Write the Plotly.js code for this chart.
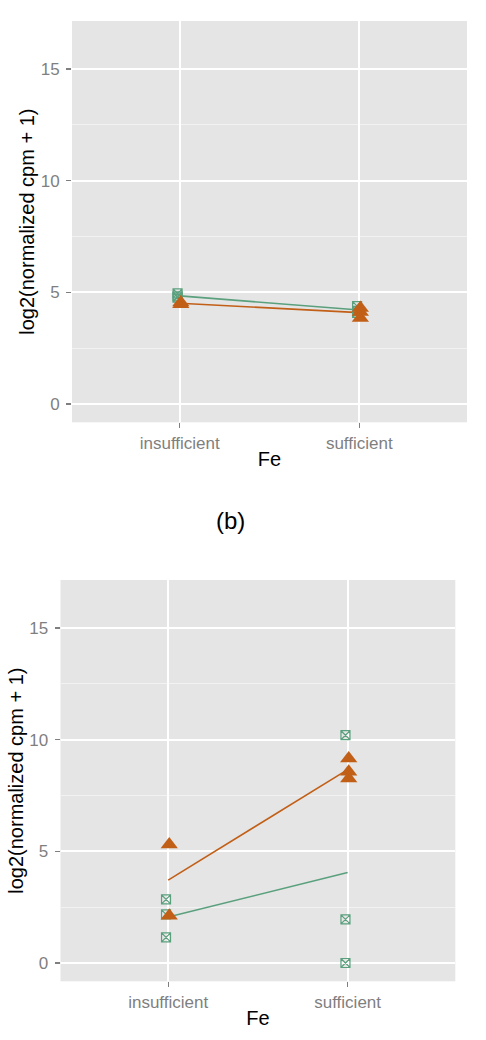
<!DOCTYPE html>
<html>
<head>
<meta charset="utf-8">
<script src="https://cdn.plot.ly/plotly-3.0.1.min.js"></script>
<style>html,body{margin:0;padding:0;background:#fff;}#chart{width:486px;height:1040px;}</style>
</head>
<body>
<div id="chart"></div>
<script>
// Categories
var categories = ["insufficient", "sufficient"];
var yTickVals = [0, 5, 10, 15];
var yTickText = ["0", "5", "10", "15"];

// Panel 1 (top) values
var topGreenInsufficient = [4.95, 4.82, 4.76];
var topGreenSufficient = [4.38, 4.17, 4.08];
var topOrangeInsufficient = [4.55, 4.47];
var topOrangeSufficient = [4.30, 4.12, 3.85];

// Panel 2 (bottom, "(b)") values
var botGreenInsufficient = [2.85, 2.18, 1.15];
var botGreenSufficient = [10.2, 1.95, 0.0];
var botOrangeInsufficient = [5.31, 2.11];
var botOrangeSufficient = [9.16, 8.56, 8.26];

var GREEN = "#5AA07D";
var ORANGE = "#C25F17";
var greenDodge = -0.012, orangeDodge = 0.006;

function mean(a){ var s=0; for(var i=0;i<a.length;i++) s+=a[i]; return s/a.length; }
function pts(ins, suf, dodge){
  var x=[], y=[];
  ins.forEach(function(v){ x.push(0+dodge); y.push(v); });
  suf.forEach(function(v){ x.push(1+dodge); y.push(v); });
  return {x:x, y:y};
}

function panelTraces(gI, gS, oI, oS, xa, ya){
  var g = pts(gI, gS, greenDodge), o = pts(oI, oS, orangeDodge);
  return [
    {type:"scatter", mode:"lines", x:[0,1], y:[mean(gI), mean(gS)], xaxis:xa, yaxis:ya,
     line:{color:GREEN, width:1.6}, showlegend:false, hoverinfo:"skip"},
    {type:"scatter", mode:"lines", x:[0,1], y:[mean(oI), mean(oS)], xaxis:xa, yaxis:ya,
     line:{color:ORANGE, width:1.6}, showlegend:false, hoverinfo:"skip"},
    {type:"scatter", mode:"markers", x:g.x, y:g.y, xaxis:xa, yaxis:ya,
     marker:{symbol:"square-x-open", size:9, color:GREEN, line:{width:1.2, color:GREEN}}, showlegend:false},
    {type:"scatter", mode:"markers", x:o.x, y:o.y, xaxis:xa, yaxis:ya,
     marker:{symbol:"triangle-up", size:15, color:ORANGE, line:{width:0}}, showlegend:false}
  ];
}

var data = [].concat(
  panelTraces(topGreenInsufficient, topGreenSufficient, topOrangeInsufficient, topOrangeSufficient, "x", "y"),
  panelTraces(botGreenInsufficient, botGreenSufficient, botOrangeInsufficient, botOrangeSufficient, "x2", "y2")
);

var W = 486, H = 1040;
var FONT = "Liberation Sans, Arial, sans-serif";
function xAxis(l, r, anchor){
  return {
    domain:[l/W, r/W], anchor:anchor, range:[-0.6, 1.6], tickmode:"array",
    tickvals:[0,1], ticktext:categories, showgrid:true, gridcolor:"#FFFFFF", gridwidth:1.8,
    zeroline:false, showline:false, ticks:"outside", ticklen:5, tickwidth:1.3, tickcolor:"#7F7F7F",
    tickfont:{family:FONT, size:17, color:"#7F7F7F"},
    ticklabelstandoff:0,
    title:{text:"Fe", font:{family:FONT, size:20, color:"#000000"}, standoff:0},
    fixedrange:true
  };
}
function yAxis(top, bottom, anchor){
  return {
    domain:[1-bottom/H, 1-top/H], anchor:anchor, range:[-0.82, 17.15], tickmode:"array",
    tickvals:yTickVals, ticktext:yTickText, showgrid:true, gridcolor:"#FFFFFF", gridwidth:1.8,
    minor:{tickmode:"array", tickvals:[2.5, 7.5, 12.5], showgrid:true, gridcolor:"#F2F2F2", gridwidth:1, ticks:""},
    zeroline:false, showline:false, ticks:"outside", ticklen:5, tickwidth:1.3, tickcolor:"#7F7F7F",
    tickfont:{family:FONT, size:17, color:"#7F7F7F"},
    ticklabelstandoff:3,
    title:{text:"log2(normalized cpm + 1)", font:{family:FONT, size:20, color:"#000000"}, standoff:0},
    fixedrange:true
  };
}

var layout = {
  width:W, height:H, margin:{l:0, r:0, t:0, b:0, autoexpand:false},
  paper_bgcolor:"#FFFFFF", plot_bgcolor:"#E5E5E5",
  showlegend:false,
  xaxis: xAxis(72, 467, "y"),
  yaxis: yAxis(21, 422.3, "x"),
  xaxis2: xAxis(60.5, 455.3, "y2"),
  yaxis2: yAxis(580, 981.3, "x2"),
  annotations:[
    {text:"(b)", xref:"paper", yref:"paper", x:230.5/W, y:1-520/H, xanchor:"center", yanchor:"middle",
     showarrow:false, font:{family:FONT, size:24, color:"#000000"}}
  ]
};

Plotly.newPlot("chart", data, layout, {displayModeBar:false, staticPlot:true});
</script>
</body>
</html>
